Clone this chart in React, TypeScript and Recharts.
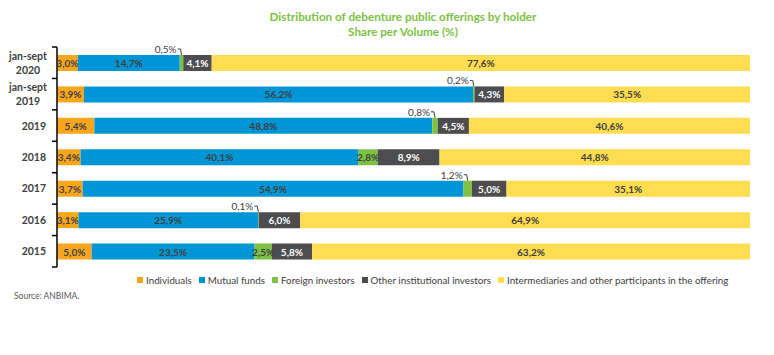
import { Bar, BarChart, LabelList, XAxis, YAxis } from 'recharts';

const periods = ['jan-sept 2020', 'jan-sept 2019', '2019', '2018', '2017', '2016', '2015'];
const individuals = [3.0, 3.9, 5.4, 3.4, 3.7, 3.1, 5.0];
const mutualFunds = [14.7, 56.2, 48.8, 40.1, 54.9, 25.9, 23.5];
const foreignInvestors = [0.5, 0.2, 0.8, 2.8, 1.2, 0.1, 2.5];
const otherInstitutional = [4.1, 4.3, 4.5, 8.9, 5.0, 6.0, 5.8];
const intermediaries = [77.6, 35.5, 40.6, 44.8, 35.1, 64.9, 63.2];

const series = [
  { key: 'individuals', name: 'Individuals', color: '#F9A61F', text: '#404040' },
  { key: 'mutualFunds', name: 'Mutual funds', color: '#0096D6', text: '#404040' },
  { key: 'foreignInvestors', name: 'Foreign investors', color: '#7DC243', text: '#404040' },
  { key: 'otherInstitutional', name: 'Other institutional investors', color: '#4D4D4F', text: '#FFFFFF' },
  { key: 'intermediaries', name: 'Intermediaries and other participants in the offering', color: '#FFDD50', text: '#404040' },
];

const data = periods.map((period, i) => ({
  period,
  individuals: individuals[i],
  mutualFunds: mutualFunds[i],
  foreignInvestors: foreignInvestors[i],
  otherInstitutional: otherInstitutional[i],
  intermediaries: intermediaries[i],
}));

const FONT = 'Lato, "Open Sans", sans-serif';
const PLOT_TOP = 47;
const PLOT_BOTTOM = 267;
const AXIS_X = 57;
const BAND = (PLOT_BOTTOM - PLOT_TOP) / periods.length;

const fmt = (v: number) => v.toFixed(1).replace('.', ',') + '%';

function makeLabel(textColor: string) {
  return (props: any) => {
    const vb = props.viewBox ?? props;
    const x = Number(vb.x ?? props.x);
    const y = Number(vb.y ?? props.y);
    const width = Number(vb.width ?? props.width);
    const height = Number(vb.height ?? props.height);
    const v = Number(props.value);
    if (!isFinite(v) || !isFinite(x)) return null;
    const cx = x + width / 2;
    if (v < 2) {
      return (
        <g>
          <path
            d={`M${cx - 4},${y - 6} L${cx - 1},${y - 6} L${cx},${y}`}
            fill="none"
            stroke="#404040"
            strokeWidth={1}
          />
          <text
            x={cx - 5}
            y={y - 6}
            textAnchor="end"
            dominantBaseline="central"
            fontSize={10}
            fontFamily={FONT}
            fill="#404040"
          >
            {fmt(v)}
          </text>
        </g>
      );
    }
    return (
      <text
        x={cx}
        y={y + height / 2}
        textAnchor="middle"
        dominantBaseline="central"
        fontSize={10}
        fontWeight="bold"
        fontFamily={FONT}
        fill={textColor}
      >
        {fmt(v)}
      </text>
    );
  };
}

function PeriodTick(props: any) {
  const { y, payload, index } = props;
  const label: string = payload.value;
  const parts = label.split(' ');
  const top = y - BAND / 2;
  return (
    <g>
      <line x1={AXIS_X - 5} x2={AXIS_X} y1={top} y2={top} stroke="#000" strokeWidth={1.5} />
      {index === periods.length - 1 && (
        <line x1={AXIS_X - 5} x2={AXIS_X} y1={top + BAND} y2={top + BAND} stroke="#000" strokeWidth={1.5} />
      )}
      {parts.length > 1 ? (
        <text textAnchor="middle" fontSize={10.5} fontWeight="bold" fontFamily={FONT} fill="#404040">
          <tspan x={28} y={y - 7} dominantBaseline="central">{parts[0]}</tspan>
          <tspan x={28} y={y + 7} dominantBaseline="central">{parts[1]}</tspan>
        </text>
      ) : (
        <text x={46} y={y} textAnchor="end" dominantBaseline="central" fontSize={10.5} fontWeight="bold" fontFamily={FONT} fill="#404040">
          {label}
        </text>
      )}
    </g>
  );
}

export default function App() {
  return (
    <div style={{ position: 'absolute', left: 0, top: 0, width: 774, height: 355, background: '#fff', fontFamily: FONT }}>
      <div style={{ position: 'absolute', left: 0, width: 806, top: 9, textAlign: 'center', color: '#7DC243', fontWeight: 'bold', fontSize: 11.7, lineHeight: '15px' }}>
        Distribution of debenture public offerings by holder
        <br />
        Share per Volume (%)
      </div>
      <BarChart
        width={774}
        height={355}
        data={data}
        layout="vertical"
        stackOffset="expand"
        barSize={16}
        margin={{ top: PLOT_TOP, right: 24, bottom: 355 - PLOT_BOTTOM, left: 7 }}
      >
        <XAxis type="number" hide domain={[0, 1]} />
        <YAxis
          type="category"
          dataKey="period"
          width={50}
          axisLine={{ stroke: '#000', strokeWidth: 1.5 }}
          tickLine={false}
          tick={<PeriodTick />}
          interval={0}
        />
        {series.map((s) => (
          <Bar key={s.key} dataKey={s.key} name={s.name} stackId="a" fill={s.color} isAnimationActive={false}>
            <LabelList dataKey={s.key} content={makeLabel(s.text)} />
          </Bar>
        ))}
      </BarChart>
      <div style={{ position: 'absolute', left: 137, top: 274, display: 'flex', gap: 7, fontSize: 9.8, color: '#404040', whiteSpace: 'nowrap' }}>
        {series.map((s) => (
          <div key={s.key} style={{ display: 'flex', alignItems: 'center', gap: 3 }}>
            <span style={{ width: 6, height: 6, background: s.color, display: 'inline-block' }} />
            <span>{s.name}</span>
          </div>
        ))}
      </div>
      <div style={{ position: 'absolute', left: 14, top: 291, fontSize: 8.5, color: '#595959' }}>Source: ANBIMA.</div>
    </div>
  );
}
